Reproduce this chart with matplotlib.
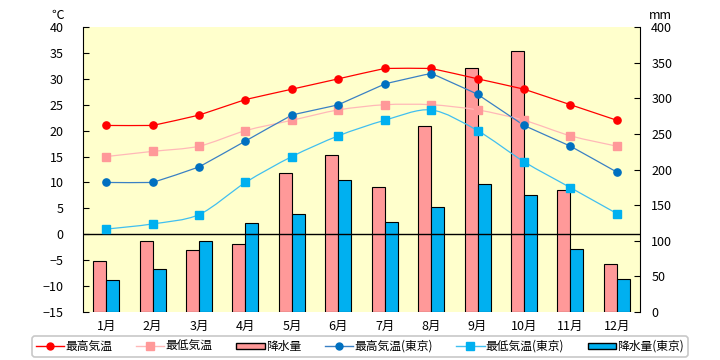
import numpy as np
import matplotlib.pyplot as plt
from matplotlib.path import Path
from matplotlib.patches import PathPatch
from matplotlib.lines import Line2D
from matplotlib.patches import Rectangle

plt.rcParams['font.family'] = ['Noto Sans CJK JP', 'DejaVu Sans']

# データ
months = ["1月", "2月", "3月", "4月", "5月", "6月", "7月", "8月", "9月", "10月", "11月", "12月"]
tmax = [21, 21, 23, 26, 28, 30, 32, 32, 30, 28, 25, 22]
tmin = [15, 16, 17, 20, 22, 24, 25, 25, 24, 22, 19, 17]
rain = [71, 99, 87, 95, 195, 220, 176, 261, 343, 366, 171, 67]
tmax_tokyo = [10, 10, 13, 18, 23, 25, 29, 31, 27, 21, 17, 12]
tmin_tokyo = [1, 2, 3.8, 10, 15, 19, 22, 24, 20, 14, 9, 4]
rain_tokyo = [45, 60, 100, 125, 137, 185, 126, 147, 179, 164, 88, 46]

c_red = "#FF0000"
c_pink = "#FF9999"
c_blue = "#0070C0"
c_cyan = "#00B0F0"


def smooth_path(x, y, k):
    # なめらかな線（ベジェ曲線）、k=0で折れ線
    verts = [(x[0], y[0])]
    codes = [Path.MOVETO]
    n = len(x)
    for i in range(n - 1):
        p0 = np.array([x[max(i - 1, 0)], y[max(i - 1, 0)]])
        p1 = np.array([x[i], y[i]])
        p2 = np.array([x[i + 1], y[i + 1]])
        p3 = np.array([x[min(i + 2, n - 1)], y[min(i + 2, n - 1)]])
        c1 = p1 + (p2 - p0) * k
        c2 = p2 - (p3 - p1) * k
        verts += [tuple(c1), tuple(c2), tuple(p2)]
        codes += [Path.CURVE4] * 3
    return Path(verts, codes)


fig = plt.figure(figsize=(7.2, 3.6), dpi=100)
ax1 = fig.add_axes([0.1153, 0.1333, 0.7737, 0.7917])
ax2 = ax1.twinx()
ax1.set_zorder(2)
ax1.patch.set_visible(False)
ax2.patch.set_facecolor("#FFFFCC")
ax2.patch.set_visible(True)
ax2.set_zorder(1)

x = np.arange(12)
w = 0.28
ax2.bar(x - w / 2, rain, w, color=c_pink, edgecolor="black", linewidth=0.8)
ax2.bar(x + w / 2, rain_tokyo, w, color=c_cyan, edgecolor="black", linewidth=0.8)
ax2.set_ylim(0, 400)
ax2.set_yticks(range(0, 401, 50))

ax1.axhline(0, color="black", linewidth=1)
series = [
    (tmax, c_red, "o", "#FF0000", 0.02),
    (tmin, c_pink, "s", "#FFB8B8", 0.15),
    (tmax_tokyo, c_blue, "o", "#3A80C4", 0.02),
    (tmin_tokyo, c_cyan, "s", "#40BFF0", 0.15),
]
for vals, mc, mk, lc, k in series:
    ax1.add_patch(PathPatch(smooth_path(x, vals, k), facecolor="none", edgecolor=lc, linewidth=0.9))
    ax1.plot(x, vals, linestyle="none", marker=mk, color=mc, markersize=5.2)

ax1.set_xlim(-0.5, 11.5)
ax1.set_ylim(-15, 40)
ax1.set_yticks(range(-15, 41, 5))
ax1.set_xticks(x)
ax1.set_xticklabels(months)

for ax in (ax1, ax2):
    ax.spines["top"].set_visible(False)
    ax.spines["bottom"].set_visible(False)
    ax.tick_params(axis="y", direction="in", length=4, labelsize=9, pad=14)
    ax.tick_params(axis="x", length=0, labelsize=9, pad=6)
ax2.tick_params(axis="y", pad=8)
ax1.spines["right"].set_visible(False)
ax2.spines["left"].set_visible(False)

fig.text(0.08, 0.975, "℃", fontsize=9, ha="center", va="top")
fig.text(0.917, 0.975, "mm", fontsize=9, ha="center", va="top")

handles = [
    Line2D([], [], color=c_red, marker="o", markersize=5, linewidth=1),
    Line2D([], [], color="#FFB8B8", marker="s", markerfacecolor=c_pink, markeredgecolor=c_pink, markersize=6, linewidth=1),
    Rectangle((0, 0), 1, 1, facecolor=c_pink, edgecolor="black"),
    Line2D([], [], color="#3A80C4", marker="o", markerfacecolor=c_blue, markeredgecolor=c_blue, markersize=5, linewidth=1),
    Line2D([], [], color="#40BFF0", marker="s", markerfacecolor=c_cyan, markeredgecolor=c_cyan, markersize=6, linewidth=1),
    Rectangle((0, 0), 1, 1, facecolor=c_cyan, edgecolor="black"),
]
labels = ["最高気温", "最低気温", "降水量", "最高気温(東京)", "最低気温(東京)", "降水量(東京)"]
leg = fig.legend(handles, labels, loc="center", bbox_to_anchor=(0.5, 0.0375), ncol=6,
                 fontsize=8.5, frameon=True, fancybox=True, edgecolor="#BBBBBB",
                 handlelength=2.4, handletextpad=0.1, columnspacing=2.0,
                 borderpad=0.3, handleheight=0.45)
leg.get_frame().set_linewidth(1.2)

fig.savefig("out.png", dpi=100)
